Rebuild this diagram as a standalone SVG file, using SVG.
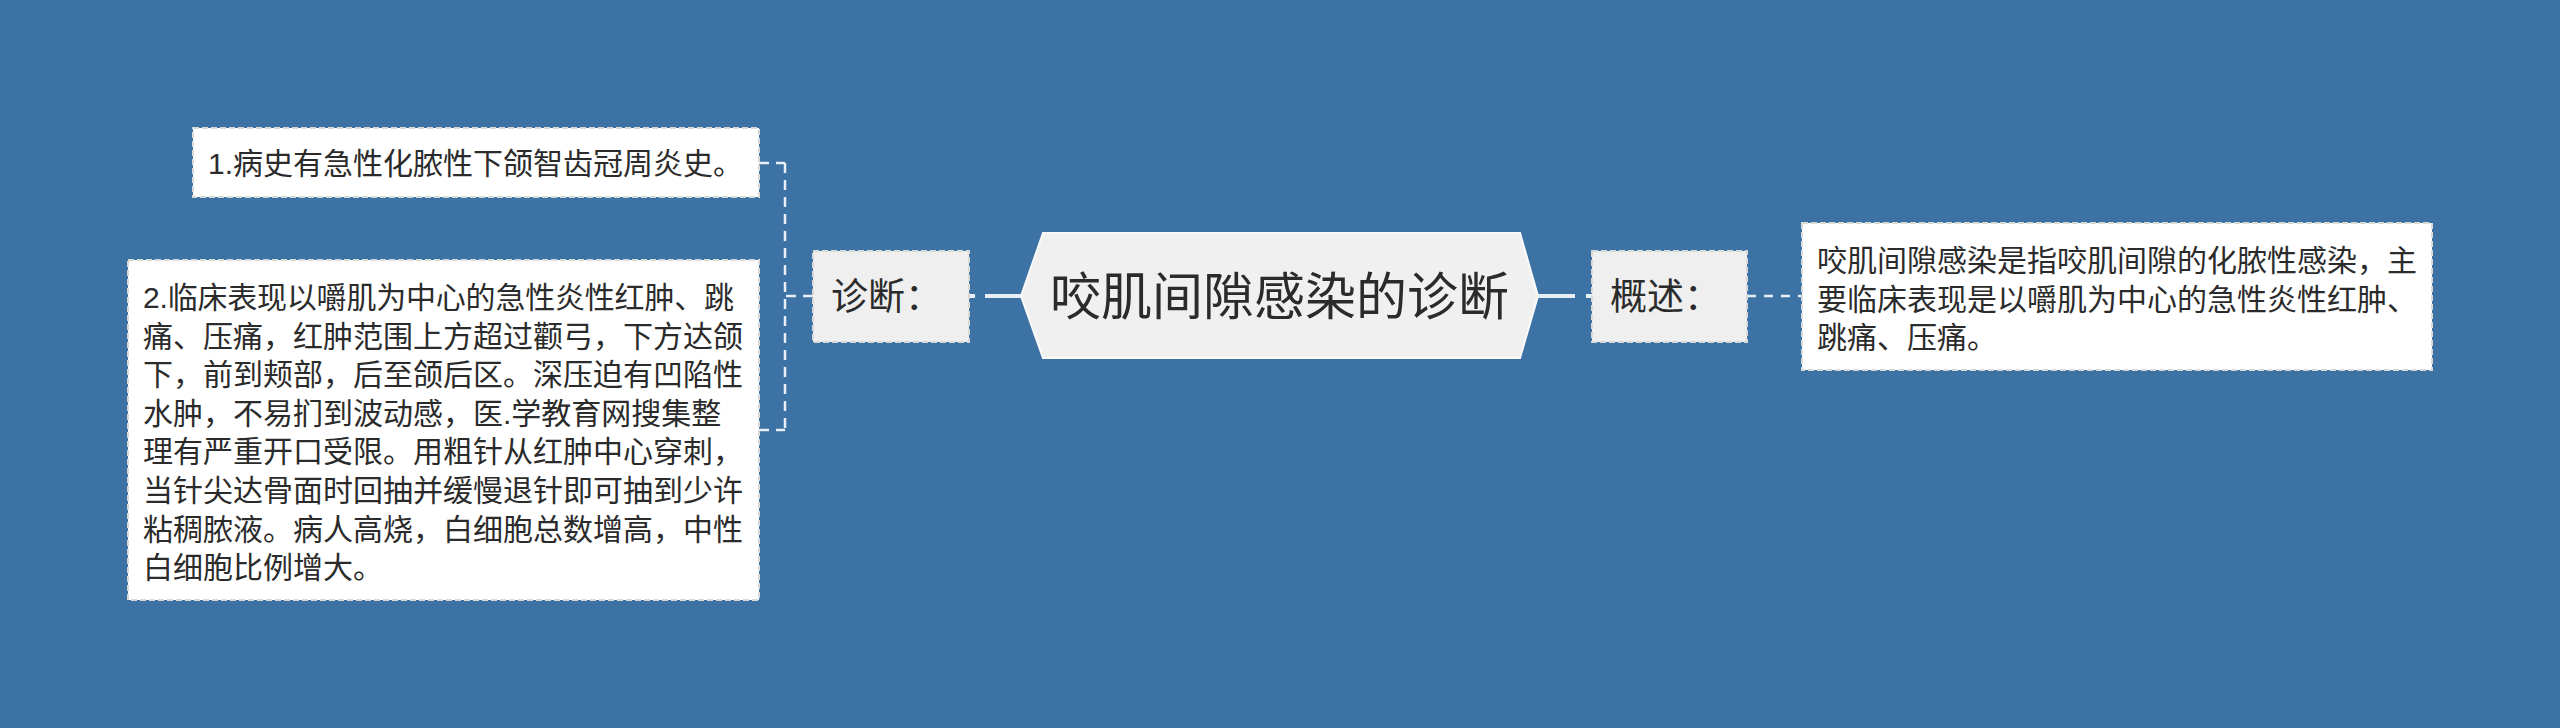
<svg xmlns="http://www.w3.org/2000/svg" width="2560" height="728" viewBox="0 0 2560 728">
  <style>
    text { font-family: "Liberation Sans", "Noto Sans CJK SC", sans-serif; fill: #2b2b2b; }
    .leaf { fill: #ffffff; stroke: #d9d9d9; stroke-width: 2; stroke-dasharray: 6 3; }
    .sub { fill: #efefef; stroke: #d9d9d9; stroke-width: 2; stroke-dasharray: 6 3; }
    .root { fill: #f0f0f0; stroke: #fafafa; stroke-width: 2; }
    .lt { font-size: 30px; }
    .st { font-size: 37px; }
    .rt { font-size: 51px; }
    .solid { fill: none; stroke: #e8eef5; stroke-width: 4; }
    .dash { fill: none; stroke: #e8eef5; stroke-width: 2.5; stroke-dasharray: 10 7; }
  </style>
  <rect x="0" y="0" width="2560" height="728" fill="#3d72a4"/>

  <g id="connectors">
    <path class="dash" d="M813 296 H785 M785 163 V430 M759 163 H785 M759 430 H785"/>
    <path class="solid" d="M985 296 H1021"/>
    <path class="solid" d="M969 296 H975"/>
    <path class="solid" d="M1538 296 H1575"/>
    <path class="solid" d="M1586 296 H1593"/>
    <path class="dash" d="M1747 296 H1802" style="stroke-dasharray: 9 8"/>
  </g>

  <g id="root">
    <polygon class="root" points="1021,296 1043,233 1520,233 1538,296 1520,358 1043,358"/>
    <text class="rt" x="1279.5" y="315" text-anchor="middle">咬肌间隙感染的诊断</text>
  </g>

  <g id="diagnosis">
    <rect class="sub" x="813" y="251" width="156" height="91"/>
    <text class="st" x="831" y="310">诊断：</text>
  </g>

  <g id="overview">
    <rect class="sub" x="1592" y="251" width="155" height="91"/>
    <text class="st" x="1610" y="310">概述：</text>
  </g>

  <g id="item1">
    <rect class="leaf" x="193" y="128" width="566" height="69"/>
    <text class="lt" x="208" y="173.5">1.病史有急性化脓性下颌智齿冠周炎史。</text>
  </g>

  <g id="item2">
    <rect class="leaf" x="128" y="260" width="631" height="340"/>
    <text class="lt" x="143" y="308" textLength="591">2.临床表现以嚼肌为中心的急性炎性红肿、跳</text>
    <text class="lt" x="143" y="346.6">痛、压痛，红肿范围上方超过颧弓，下方达颌</text>
    <text class="lt" x="143" y="385.2">下，前到颊部，后至颌后区。深压迫有凹陷性</text>
    <text class="lt" x="143" y="423.8">水肿，不易扪到波动感，医.学教育网搜集整</text>
    <text class="lt" x="143" y="462.4">理有严重开口受限。用粗针从红肿中心穿刺，</text>
    <text class="lt" x="143" y="501">当针尖达骨面时回抽并缓慢退针即可抽到少许</text>
    <text class="lt" x="143" y="539.6">粘稠脓液。病人高烧，白细胞总数增高，中性</text>
    <text class="lt" x="143" y="578.2">白细胞比例增大。</text>
  </g>

  <g id="summary">
    <rect class="leaf" x="1802" y="223" width="630" height="147"/>
    <text class="lt" x="1817" y="271">咬肌间隙感染是指咬肌间隙的化脓性感染，主</text>
    <text class="lt" x="1817" y="309.5">要临床表现是以嚼肌为中心的急性炎性红肿、</text>
    <text class="lt" x="1817" y="348">跳痛、压痛。</text>
  </g>
</svg>
